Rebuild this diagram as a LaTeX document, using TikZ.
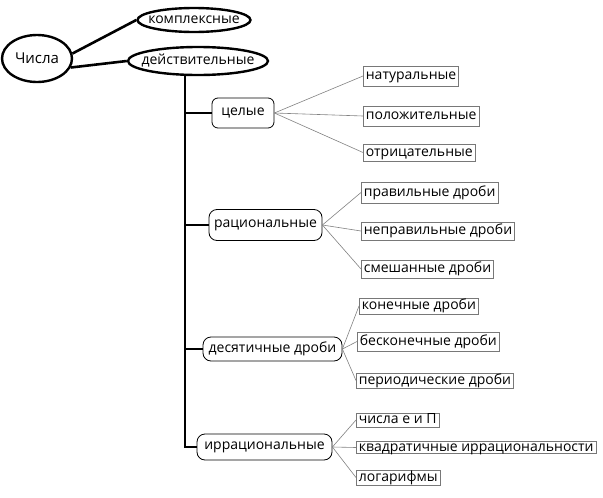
\documentclass[tikz,border=0pt]{standalone}
\usepackage{fontspec}
\setmainfont{Open Sans}
\usetikzlibrary{shapes.geometric}
\definecolor{boxgray}{RGB}{120,120,120}
\definecolor{linegray}{RGB}{130,130,130}
\newcommand{\ovaltext}[1]{\makebox[0pt]{#1}}
\tikzset{
  txt/.style={font=\fontsize{14}{16}\selectfont},
  oval/.style={ellipse, draw=black, line width=2.4pt, inner sep=0pt, txt},
  leaf/.style={draw=boxgray, line width=0.7pt, anchor=west, inner xsep=2.5pt, inner ysep=0pt, text height=9.5pt, text depth=2.5pt, txt},
  cat/.style={draw=black, line width=0.8pt, rounded corners=8pt, inner xsep=3pt, txt},
  thin/.style={draw=linegray, line width=0.6pt},
  trunk/.style={draw=black, line width=1.3pt},
  thick/.style={draw=black, line width=2.6pt}
}
\begin{document}
\begin{tikzpicture}[x=1pt,y=-1pt]
\useasboundingbox[fill=white] (0,0) rectangle (603,498);
\node[oval, minimum width=70pt, minimum height=47pt, font=\fontsize{15}{17}\selectfont] (ch) at (37,58.5) {\ovaltext{Числа}};
\node[oval, minimum width=113pt, minimum height=24pt] (ko) at (194,20) {\ovaltext{комплексные}};
\node[oval, minimum width=140pt, minimum height=28pt] (de) at (198,61) {\ovaltext{действительные}};
\draw[thick] (ch.8) -- (ko.west);
\draw[thick] (ch.-15) -- (de.west);

\coordinate (tr) at (185,0);

\node[cat, rounded corners=6pt, minimum width=62pt, minimum height=30pt] (ce) at (243,113) {целые};
\node[cat, minimum width=113pt, minimum height=31pt] (ra) at (265.5,225) {рациональные};
\node[cat, minimum width=139pt, minimum height=24pt] (dc) at (272.5,349) {десятичные дроби};
\node[cat, minimum width=135pt, minimum height=26pt] (ir) at (264.5,447) {иррациональные};

\draw[trunk] (tr |- de.south) -- (tr |- ir.west) -- (ir.west);
\draw[trunk] (tr |- ce.west) -- (ce.west);
\draw[trunk] (tr |- ra.west) -- (ra.west);
\draw[trunk] (tr |- dc.west) -- (dc.west);

\node[leaf, minimum height=20pt] (n1) at (363,76) {натуральные};
\node[leaf, minimum height=20pt] (n2) at (363,116) {положительные};
\node[leaf, minimum height=17pt] (n3) at (363,152.5) {отрицательные};
\node[leaf, minimum height=21pt] (r1) at (361,192.5) {правильные дроби};
\node[leaf, minimum height=18pt] (r2) at (361,231) {неправильные дроби};
\node[leaf, minimum height=18pt] (r3) at (361,269) {смешанные дроби};
\node[leaf, minimum height=16pt] (d1) at (359,306) {конечные дроби};
\node[leaf, minimum height=19pt] (d2) at (357,341.5) {бесконечные дроби};
\node[leaf, minimum height=15pt] (d3) at (356,380.5) {периодические дроби};
\node[leaf, minimum height=14pt] (i1) at (356,420) {числа е и П};
\node[leaf, minimum height=11pt] (i2) at (356,447.5) {квадратичные иррациональности};
\node[leaf, minimum height=15pt] (i3) at (356,477.5) {логарифмы};

\foreach \b in {n1,n2,n3} \draw[thin] (ce.east) -- (\b.west);
\foreach \b in {r1,r2,r3} \draw[thin] (ra.east) -- (\b.west);
\foreach \b in {d1,d2,d3} \draw[thin] (dc.east) -- (\b.west);
\foreach \b in {i1,i2,i3} \draw[thin] (ir.east) -- (\b.west);
\end{tikzpicture}
\end{document}
